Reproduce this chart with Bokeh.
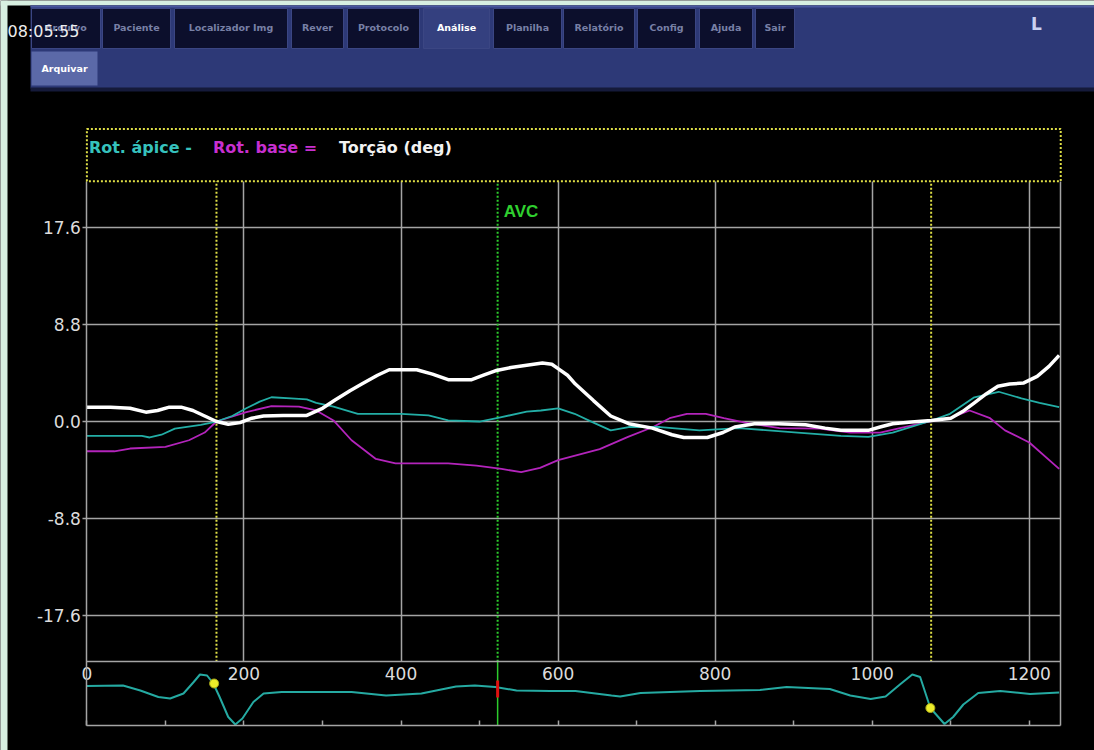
import math
from bokeh.plotting import figure
from bokeh.models import (Range1d, LinearAxis, FixedTicker, PrintfTickFormatter, Grid,
                          BoxAnnotation, Label, ColumnDataSource)
from bokeh.core.properties import value
from bokeh.embed import file_html
from bokeh.resources import INLINE

# ---------------- data (time in ms, rotation in degrees) ----------------
TORSION_T = [0, 30, 55, 75, 90, 105, 120, 135, 150, 165, 180, 195, 210, 225, 250, 280, 300, 315,
             335, 350, 370, 385, 420, 440, 460, 490, 505, 520, 540, 560, 580, 592, 600, 612, 622,
             645, 667, 690, 720, 745, 760, 790, 810, 825, 850, 880, 915, 940, 960, 995, 1010,
             1026, 1050, 1075, 1100, 1115, 1130, 1145, 1160, 1175, 1193, 1210, 1225, 1238]
TORSION_V = [1.3, 1.3, 1.2, 0.85, 1.0, 1.3, 1.3, 1.0, 0.5, 0.0, -0.25, -0.1, 0.3, 0.5, 0.55, 0.55,
             1.2, 1.9, 2.8, 3.4, 4.2, 4.7, 4.7, 4.3, 3.8, 3.8, 4.2, 4.6, 4.9, 5.1, 5.3, 5.2, 4.8,
             4.2, 3.4, 1.9, 0.5, -0.2, -0.6, -1.2, -1.45, -1.45, -1.0, -0.5, -0.2, -0.2, -0.3,
             -0.6, -0.8, -0.8, -0.5, -0.2, -0.05, 0.1, 0.3, 0.9, 1.7, 2.5, 3.2, 3.4, 3.5, 4.1,
             5.0, 6.0]

APEX_T = [0, 45, 70, 80, 95, 112, 145, 165, 185, 203, 220, 235, 260, 280, 292, 314, 345, 400,
          435, 460, 500, 525, 560, 578, 600, 621, 645, 667, 690, 730, 780, 830, 905, 960, 995,
          1026, 1072, 1099, 1130, 1161, 1190, 1213, 1238]
APEX_V = [-1.3, -1.3, -1.3, -1.45, -1.2, -0.65, -0.3, 0.0, 0.5, 1.2, 1.8, 2.2, 2.1, 2.0, 1.7,
          1.36, 0.7, 0.7, 0.55, 0.1, 0.0, 0.35, 0.9, 1.0, 1.2, 0.7, -0.1, -0.8, -0.5, -0.5, -0.8,
          -0.6, -1.0, -1.3, -1.4, -1.0, 0.0, 0.7, 2.2, 2.7, 2.1, 1.7, 1.3]

BASE_T = [0, 35, 55, 100, 130, 150, 165, 203, 235, 270, 292, 314, 337, 368, 393, 427, 460, 496,
          528, 553, 577, 600, 653, 689, 721, 742, 764, 788, 811, 838, 882, 933, 972, 1010, 1072,
          1099, 1124, 1150, 1169, 1200, 1238]
BASE_V = [-2.7, -2.7, -2.45, -2.3, -1.7, -1.0, 0.0, 0.85, 1.4, 1.35, 1.0, 0.1, -1.7, -3.4, -3.8,
          -3.8, -3.8, -4.0, -4.3, -4.6, -4.2, -3.5, -2.5, -1.4, -0.5, 0.3, 0.7, 0.7, 0.3, -0.1,
          -0.6, -0.65, -1.0, -1.0, 0.0, 0.3, 1.0, 0.3, -0.8, -1.9, -4.3]

# ECG trace (arbitrary mV)
ECG_T = [0, 46, 68, 91, 106, 123, 136, 144, 153, 161, 169, 180, 189, 198, 212, 225, 248, 337,
         381, 426, 470, 494, 520, 547, 590, 622, 668, 679, 705, 781, 857, 891, 946, 972, 998,
         1017, 1036, 1051, 1061, 1074, 1092, 1103, 1116, 1135, 1163, 1201, 1238]
ECG_V = [0.11, 0.12, 0.02, -0.11, -0.14, -0.04, 0.19, 0.34, 0.32, 0.16, -0.11, -0.51, -0.66,
         -0.54, -0.21, -0.04, -0.01, -0.01, -0.08, -0.04, 0.10, 0.12, 0.09, 0.02, 0.01, 0.01,
         -0.08, -0.10, -0.03, 0.01, 0.03, 0.09, 0.05, -0.08, -0.15, -0.10, 0.15, 0.34, 0.29,
         -0.33, -0.65, -0.51, -0.26, -0.03, 0.01, -0.05, -0.02]

EVENT_T = [165, 1075]          # yellow dotted markers
ECG_MARK_T = [162, 1074]
ECG_MARK_V = [0.16, -0.33]
AVC_T = 523
AVC_ECG_V = 0.05

X_LABEL_TICKS = [0, 200, 400, 600, 800, 1000, 1200]
X_SMALL_TICKS = [0, 100, 200, 300, 400, 500, 600, 700, 800, 900, 1000, 1100, 1200]
X_GRID = [200, 400, 600, 800, 1000, 1200]
Y_TICKS = [-17.6, -8.8, 0.0, 8.8, 17.6]

LEGEND_PARTS = ["Rot. ápice - ", "Rot. base = ", "Torção (deg)"]
LEGEND_COLORS = ["#36c2bd", "#c72fcf", "#f2f2f2"]

TABS = ["Arquivo", "Paciente", "Localizador Img", "Rever", "Protocolo", "Análise",
        "Planilha", "Relatório", "Config", "Ajuda", "Sair"]
SELECTED_TAB = "Análise"
TAB_LEFT = [31, 102, 174, 291, 347, 423, 493, 563, 637, 699, 755]
TAB_RIGHT = [100, 170, 287, 343, 419, 489, 561, 634, 695, 752, 794]

# ---------------- layout constants ----------------
W, H = 1094, 750
X_RANGE = (-110, 1283)       # whole canvas, ms
X_END = 1240                 # right edge of chart box
Y_RANGE = (-29.85, 38.2)     # whole canvas, deg
Y_LIM = 21.8                 # main plotting area +/-
Y_ECG_BOTTOM = -27.6
LEGEND_TOP = 26.55
ECG_RANGE = (-1.18, 13.82)   # whole canvas, mV

GRID_C = "#a4a4a4"
LABEL_C = "#dcdcdc"
YELLOW = "#dede46"
GREEN = "#2ccc2c"
FONT = "DejaVu Sans"

p = figure(width=W, height=H, x_range=Range1d(*X_RANGE), y_range=Range1d(*Y_RANGE),
           toolbar_location=None, output_backend="svg", min_border=0,
           background_fill_color="black", border_fill_color="black",
           outline_line_color=None, x_axis_location=None, y_axis_location=None)
p.grid.visible = False
p.extra_y_ranges = {"ecg": Range1d(*ECG_RANGE), "px": Range1d(H, 0)}
p.extra_x_ranges = {"px": Range1d(0, W)}
PX = dict(x_range_name="px", y_range_name="px")

# ---------------- instrument UI header ----------------
p.quad(left=[0, 0], right=[7, W], top=[0, 0], bottom=[H, 5], fill_color="#d7efe1",
       line_color=None, **PX)
p.quad(left=[30], right=[W], top=[5], bottom=[88], fill_color="#2d3977", line_color=None, **PX)
p.quad(left=[30], right=[W], top=[5], bottom=[7], fill_color="#4a58a0", line_color=None, **PX)
p.quad(left=[30], right=[W], top=[87], bottom=[91], fill_color="#151a3a", line_color=None, **PX)

tab_src = ColumnDataSource(dict(
    name=TABS, left=TAB_LEFT, right=TAB_RIGHT,
    cx=[(a + b) / 2 for a, b in zip(TAB_LEFT, TAB_RIGHT)],
    fill=["#34407f" if t == SELECTED_TAB else "#0c0f2c" for t in TABS],
    tcol=["#ffffff" if t == SELECTED_TAB else "#7880a6" for t in TABS],
))
p.quad(left="left", right="right", top=8, bottom=48, fill_color="fill",
       line_color="#3b4683", line_width=1, source=tab_src, **PX)
p.text(x="cx", y=27, text="name", text_color="tcol", text_font=value(FONT),
       text_font_style="bold", text_font_size="9.5px", text_align="center",
       text_baseline="middle", source=tab_src, **PX)

p.quad(left=[31], right=[97], top=[51], bottom=[85], fill_color="#5b69a8",
       line_color=None, **PX)
p.text(x=[64], y=[68], text=["Arquivar"], text_color="#ffffff", text_font=value(FONT),
       text_font_style="bold", text_font_size="9.5px", text_align="center",
       text_baseline="middle", **PX)
p.text(x=[7], y=[31], text=["08:05:55"], text_color="#ececec", text_font=value(FONT),
       text_font_size="16px", text_align="left", text_baseline="middle", **PX)
p.text(x=[1036], y=[23], text=["L"], text_color="#c8d0f2", text_font=value(FONT),
       text_font_style="bold", text_font_size="17px", text_align="center",
       text_baseline="middle", **PX)

# ---------------- grids ----------------
has_cross = "cross_bounds" in Grid.properties()
if has_cross:
    p.add_layout(Grid(dimension=1, ticker=FixedTicker(ticks=Y_TICKS), grid_line_color=GRID_C,
                      grid_line_width=1.5, cross_bounds=(0, X_END)), "center")
    p.add_layout(Grid(dimension=0, ticker=FixedTicker(ticks=X_GRID), grid_line_color=GRID_C,
                      grid_line_width=1.5, cross_bounds=(-Y_LIM, Y_LIM)), "center")
else:
    p.segment(x0=0, y0=Y_TICKS, x1=X_END, y1=Y_TICKS, line_color=GRID_C, line_width=1.5)
    p.segment(x0=X_GRID, y0=-Y_LIM, x1=X_GRID, y1=Y_LIM, line_color=GRID_C, line_width=1.5)

# ---------------- axes (fixed inside the canvas) ----------------
yaxis = LinearAxis(ticker=FixedTicker(ticks=Y_TICKS), formatter=PrintfTickFormatter(format="%.1f"),
                   fixed_location=0, bounds=(Y_ECG_BOTTOM, Y_LIM),
                   axis_line_color=GRID_C, axis_line_width=1.5,
                   major_tick_out=4, major_tick_in=0, major_tick_line_color=GRID_C,
                   major_tick_line_width=1.5, minor_tick_line_color=None,
                   major_label_text_color=LABEL_C, major_label_text_font=FONT,
                   major_label_text_font_size="17px", major_label_standoff=2)
p.add_layout(yaxis, "left")

raxis = LinearAxis(ticker=FixedTicker(ticks=[]), fixed_location=X_END,
                   bounds=(Y_ECG_BOTTOM, Y_LIM), axis_line_color=GRID_C, axis_line_width=1.5,
                   major_tick_out=0, major_tick_in=0, minor_tick_line_color=None,
                   major_label_text_font_size="0px", major_label_text_color=None)
p.add_layout(raxis, "right")

xbottom = LinearAxis(ticker=FixedTicker(ticks=X_SMALL_TICKS), fixed_location=Y_ECG_BOTTOM,
                     bounds=(0, X_END), axis_line_color=GRID_C, axis_line_width=1.5,
                     major_tick_in=5, major_tick_out=0, major_tick_line_color=GRID_C,
                     major_tick_line_width=1.5, minor_tick_line_color=None,
                     major_label_text_font_size="0px", major_label_text_color=None)
p.add_layout(xbottom, "below")

xlabels = LinearAxis(ticker=FixedTicker(ticks=X_LABEL_TICKS), fixed_location=-Y_LIM,
                     bounds=(0, X_END), axis_line_color=GRID_C, axis_line_width=1.5,
                     major_tick_in=0, major_tick_out=0, minor_tick_line_color=None,
                     major_label_text_color=LABEL_C, major_label_text_font=FONT,
                     major_label_text_font_size="17px", major_label_standoff=5)
p.add_layout(xlabels, "below")

# ---------------- legend box ----------------
p.add_layout(BoxAnnotation(left=0, right=X_END, bottom=Y_LIM, top=LEGEND_TOP,
                           fill_alpha=0, fill_color=None, line_color=YELLOW,
                           line_alpha=1.0, line_dash="2 2", line_width=2))
offsets = [2, 126, 252]
for txt, col, off in zip(LEGEND_PARTS, LEGEND_COLORS, offsets):
    p.add_layout(Label(x=0, y=24.85, x_offset=off, text=txt, text_color=col,
                       text_font=FONT, text_font_style="bold", text_font_size="16px",
                       text_baseline="middle", text_align="left"))

# ---------------- event markers ----------------
p.segment(x0=EVENT_T, y0=-Y_LIM, x1=EVENT_T, y1=Y_LIM, line_color=YELLOW,
          line_dash="2 2", line_width=2)
p.segment(x0=[AVC_T], y0=-Y_LIM, x1=[AVC_T], y1=Y_LIM, line_color=GREEN,
          line_dash="2 2", line_width=2)
p.segment(x0=[AVC_T], y0=Y_ECG_BOTTOM, x1=[AVC_T], y1=-Y_LIM, line_color=GREEN,
          line_width=1.5)
p.add_layout(Label(x=AVC_T, y=19.05, x_offset=6, text="AVC", text_color="#2fd02f",
                   text_font="Liberation Sans", text_font_style="bold",
                   text_font_size="17px", text_baseline="middle"))

# ---------------- curves ----------------
p.line(BASE_T, BASE_V, line_color="#b324bb", line_width=1.8)
p.line(APEX_T, APEX_V, line_color="#23aea6", line_width=1.8)
p.line(TORSION_T, TORSION_V, line_color="#ffffff", line_width=3.5)

# ---------------- ECG strip ----------------
p.line(ECG_T, ECG_V, line_color="#25aaa2", line_width=2, y_range_name="ecg")
p.scatter([AVC_T], [AVC_ECG_V], marker="dash", angle=math.pi / 2, size=17,
          line_color="#e01010", line_width=3, y_range_name="ecg")
p.scatter(ECG_MARK_T, ECG_MARK_V, marker="circle", size=9, fill_color="#ecec2a",
          line_color="#a8a818", line_width=1, y_range_name="ecg")

open("out.html", "w").write(file_html(p, INLINE, title="Torção"))
